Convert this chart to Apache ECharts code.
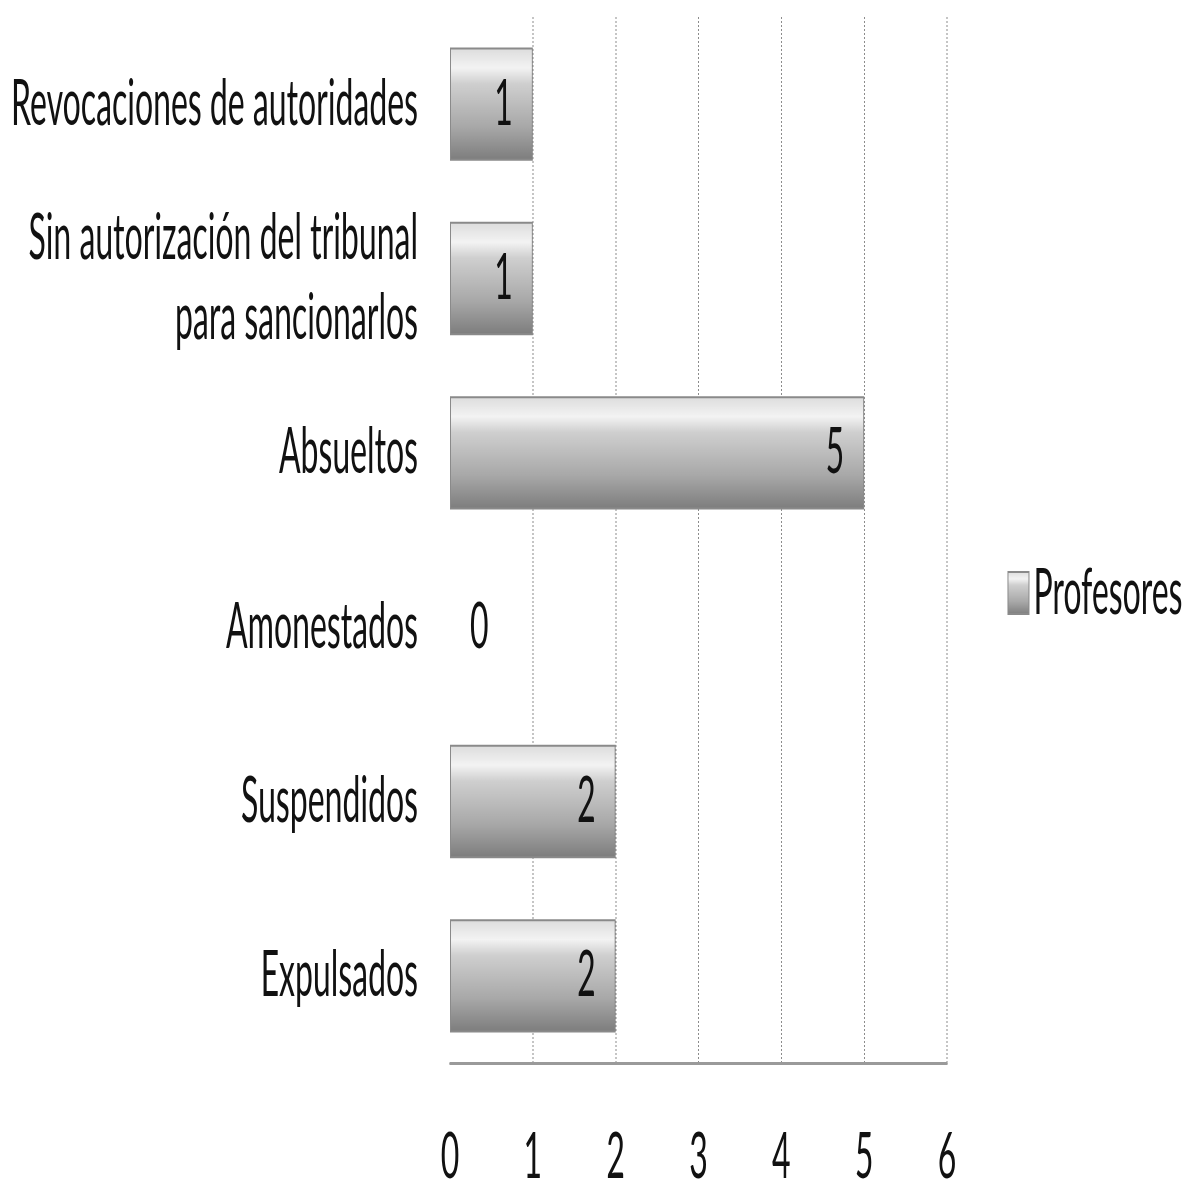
<!DOCTYPE html>
<html>
<head>
<meta charset="utf-8">
<script src="https://cdn.jsdelivr.net/npm/echarts@6/dist/echarts.min.js"></script>
<style>
html,body{margin:0;padding:0;background:#fff;overflow:hidden;width:1196px;height:1189px;}
#chart{width:2392px;height:1189px;transform:scaleX(0.5);transform-origin:0 0;}
</style>
</head>
<body>
<div id="chart"></div>
<script>
const categories = ['Expulsados', 'Suspendidos', 'Amonestados', 'Absueltos', 'Sin autorización del tribunal\npara sancionarlos', 'Revocaciones de autoridades'];
const values = [2, 2, 0, 5, 1, 1];
const seriesName = 'Profesores';
const xTicks = [0, 1, 2, 3, 4, 5, 6];

const FONT = 'Lato';
const barFill = new echarts.graphic.LinearGradient(0, 0, 0, 1, [
  {offset: 0, color: '#dcdcdc'},
  {offset: 0.18, color: '#f3f3f3'},
  {offset: 0.32, color: '#cfcfcf'},
  {offset: 0.7, color: '#a8a8a8'},
  {offset: 1, color: '#7c7c7c'}
]);

const chart = echarts.init(document.getElementById('chart'));
chart.setOption({
  backgroundColor: '#fff',
  animation: false,
  grid: {left: 900, right: 498, top: 17, bottom: 118, containLabel: false},
  legend: {
    right: 22, top: 556, orient: 'vertical',
    icon: 'rect',
    itemWidth: 42, itemHeight: 42, itemGap: 14,
    textStyle: {fontFamily: FONT, fontSize: 64, color: '#111', padding: [0, 0, 0, 4]},
    data: [seriesName]
  },
  xAxis: {
    type: 'value', min: xTicks[0], max: xTicks[xTicks.length - 1], interval: 1,
    axisLine: {show: true, lineStyle: {color: '#9a9a9a', width: 3}},
    axisTick: {show: false},
    axisLabel: {
      margin: 62, fontFamily: FONT, fontSize: 64, color: '#111',
      formatter: v => xTicks.includes(v) ? String(v) : ''
    },
    splitLine: {show: true, lineStyle: {type: 'dotted', width: 2, color: ['rgba(0,0,0,0)', '#8c8c8c', '#8c8c8c', '#8c8c8c', '#8c8c8c', '#8c8c8c', '#8c8c8c']}}
  },
  yAxis: {
    type: 'category', data: categories,
    axisLine: {show: false}, axisTick: {show: false},
    axisLabel: {margin: 64, fontFamily: FONT, fontSize: 64, lineHeight: 80, color: '#111', align: 'right'}
  },
  series: [{
    name: seriesName, type: 'bar',
    barCategoryGap: '35%',
    itemStyle: {color: barFill, borderColor: '#8a8a8a', borderWidth: 2},
    label: {show: true, position: 'insideRight', distance: 40, fontFamily: FONT, fontSize: 64, color: '#111'},
    data: values.map(v => v === 0 ? {value: v, itemStyle: {borderWidth: 0}, label: {position: 'right', distance: 40}} : v)
  }]
});
</script>
</body>
</html>
